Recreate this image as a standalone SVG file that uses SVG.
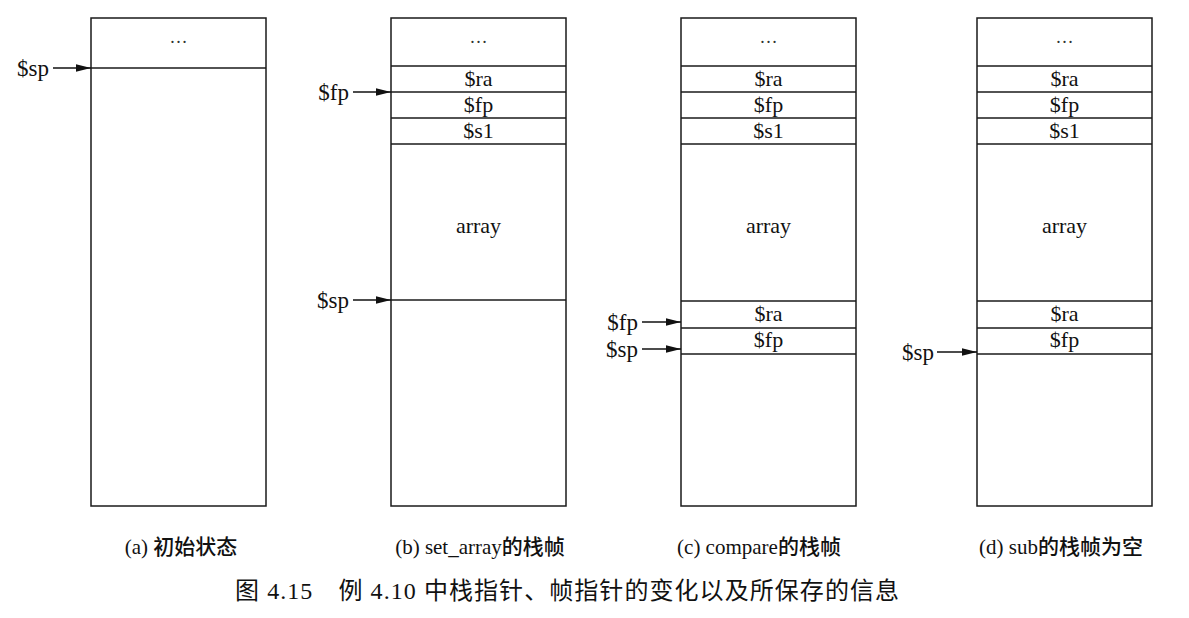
<svg xmlns="http://www.w3.org/2000/svg" width="1189" height="618" viewBox="0 0 1189 618">
<style>
.box{fill:#fff;stroke:#1a1a1a;stroke-width:1.5}
.sep{stroke:#1a1a1a;stroke-width:1.5}
.cell{font-family:"Liberation Serif","Noto Sans CJK SC",serif;font-size:22px;fill:#111;text-anchor:middle}
.ptr{font-family:"Liberation Serif","Noto Sans CJK SC",serif;font-size:23px;fill:#111;text-anchor:end}
.arr{font-family:"Liberation Serif",serif;font-size:22px;fill:#111;text-anchor:middle}
.dots{font-family:"Liberation Serif",serif;font-size:18px;fill:#333;text-anchor:middle}
.cap{font-family:"Liberation Serif","Noto Sans CJK SC",serif;font-size:21px;font-weight:500;fill:#111;text-anchor:middle}
.title{font-family:"Liberation Serif","Noto Sans CJK SC",serif;font-size:24px;fill:#111;white-space:pre}
.conn{stroke:#111;stroke-width:1.5;fill:none;marker-end:url(#ah)}
</style>
<defs>
<marker id="ah" markerUnits="userSpaceOnUse" markerWidth="16" markerHeight="10" refX="15" refY="5" orient="auto">
<path d="M0,1.3 L15,5 L0,8.7 z" fill="#111"/>
</marker>
</defs>
<rect width="1189" height="618" fill="#fff"/>

<g id="stack-a">
<rect class="box" x="91" y="18" width="175" height="488"/>
<line class="sep" x1="91" y1="68" x2="266" y2="68"/>
<text class="dots" x="178.5" y="43">…</text>
</g>

<g id="stack-b">
<rect class="box" x="391" y="18" width="175" height="488"/>
<line class="sep" x1="391" y1="66" x2="566" y2="66"/>
<line class="sep" x1="391" y1="92" x2="566" y2="92"/>
<line class="sep" x1="391" y1="118" x2="566" y2="118"/>
<line class="sep" x1="391" y1="144" x2="566" y2="144"/>
<line class="sep" x1="391" y1="300" x2="566" y2="300"/>
<text class="dots" x="478.5" y="43">…</text>
<text class="cell" x="478.5" y="86">$ra</text>
<text class="cell" x="478.5" y="112">$fp</text>
<text class="cell" x="478.5" y="138">$s1</text>
<text class="arr" x="478.5" y="233">array</text>
</g>

<g id="stack-c">
<rect class="box" x="681" y="18" width="175" height="488"/>
<line class="sep" x1="681" y1="66" x2="856" y2="66"/>
<line class="sep" x1="681" y1="92" x2="856" y2="92"/>
<line class="sep" x1="681" y1="118" x2="856" y2="118"/>
<line class="sep" x1="681" y1="144" x2="856" y2="144"/>
<line class="sep" x1="681" y1="301" x2="856" y2="301"/>
<line class="sep" x1="681" y1="328" x2="856" y2="328"/>
<line class="sep" x1="681" y1="354" x2="856" y2="354"/>
<text class="dots" x="768.5" y="43">…</text>
<text class="cell" x="768.5" y="86">$ra</text>
<text class="cell" x="768.5" y="112">$fp</text>
<text class="cell" x="768.5" y="138">$s1</text>
<text class="arr" x="768.5" y="233">array</text>
<text class="cell" x="768.5" y="321">$ra</text>
<text class="cell" x="768.5" y="347">$fp</text>
</g>

<g id="stack-d">
<rect class="box" x="977" y="18" width="175" height="488"/>
<line class="sep" x1="977" y1="66" x2="1152" y2="66"/>
<line class="sep" x1="977" y1="92" x2="1152" y2="92"/>
<line class="sep" x1="977" y1="118" x2="1152" y2="118"/>
<line class="sep" x1="977" y1="144" x2="1152" y2="144"/>
<line class="sep" x1="977" y1="301" x2="1152" y2="301"/>
<line class="sep" x1="977" y1="328" x2="1152" y2="328"/>
<line class="sep" x1="977" y1="354" x2="1152" y2="354"/>
<text class="dots" x="1064.5" y="43">…</text>
<text class="cell" x="1064.5" y="86">$ra</text>
<text class="cell" x="1064.5" y="112">$fp</text>
<text class="cell" x="1064.5" y="138">$s1</text>
<text class="arr" x="1064.5" y="233">array</text>
<text class="cell" x="1064.5" y="321">$ra</text>
<text class="cell" x="1064.5" y="347">$fp</text>
</g>

<g id="pointers">
<text class="ptr" x="49" y="76">$sp</text>
<text class="ptr" x="349" y="100">$fp</text>
<text class="ptr" x="349" y="308">$sp</text>
<text class="ptr" x="638" y="330">$fp</text>
<text class="ptr" x="638" y="357">$sp</text>
<text class="ptr" x="934" y="360">$sp</text>
</g>

<g id="connectors">
<line class="conn" x1="53" y1="68" x2="91" y2="68"/>
<line class="conn" x1="353" y1="92" x2="391" y2="92"/>
<line class="conn" x1="353" y1="300" x2="391" y2="300"/>
<line class="conn" x1="642" y1="322" x2="681" y2="322"/>
<line class="conn" x1="642" y1="349" x2="681" y2="349"/>
<line class="conn" x1="937" y1="352" x2="977" y2="352"/>
</g>

<g id="captions">
<text class="cap" x="181" y="554">(a) 初始状态</text>
<text class="cap" x="480" y="554">(b) set_array的栈帧</text>
<text class="cap" x="759" y="554">(c) compare的栈帧</text>
<text class="cap" x="1061" y="554">(d) sub的栈帧为空</text>
<text class="title" x="235" y="599" textLength="664" lengthAdjust="spacing">图 4.15　例 4.10 中栈指针、帧指针的变化以及所保存的信息</text>
</g>
</svg>
